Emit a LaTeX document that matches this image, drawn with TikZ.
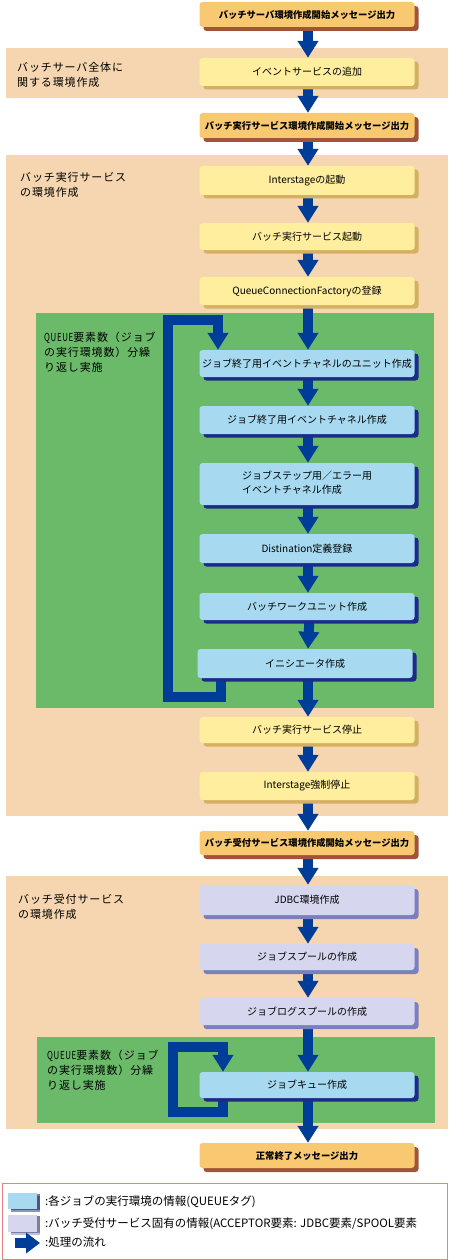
\documentclass[tikz,border=0pt]{standalone}
\usepackage{fontspec}
\usepackage{graphicx}
\setmainfont{Noto Sans CJK JP}
\newfontfamily\jplab[LetterSpace=8]{Noto Sans CJK JP}
\usetikzlibrary{arrows.meta,shadows}
\definecolor{tanbg}{HTML}{F5D6B0}
\definecolor{greenbg}{HTML}{6ABA6A}
\definecolor{orfill}{HTML}{F9C972}
\definecolor{orshad}{HTML}{A0553A}
\definecolor{yefill}{HTML}{FEEE9E}
\definecolor{yeshad}{HTML}{D5B062}
\definecolor{blfill}{HTML}{A7DAF1}
\definecolor{blshad}{HTML}{1C2B8A}
\definecolor{lvfill}{HTML}{D6D7EE}
\definecolor{lvshad}{HTML}{7B7FBF}
\definecolor{flowc}{HTML}{003D99}
\definecolor{legline}{HTML}{E98085}
\newcommand{\narrowq}{\scalebox{0.72}[1]{QUEUE}}
\pgfdeclarelayer{bg}
\pgfdeclarelayer{mid}
\pgfsetlayers{bg,mid,main}
\tikzset{
  box/.style={rounded corners=3pt, minimum width=215pt, inner sep=0pt, align=center,
    font=\fontsize{10}{14}\selectfont, text=black},
  obox/.style={box, fill=orfill, font=\bfseries\fontsize{9.3}{12}\selectfont,
    drop shadow={shadow xshift=4pt, shadow yshift=-4pt, fill=orshad, opacity=1}},
  ybox/.style={box, fill=yefill,
    drop shadow={shadow xshift=4pt, shadow yshift=-3.5pt, fill=yeshad, opacity=1}},
  bbox/.style={box, fill=blfill,
    drop shadow={shadow xshift=4pt, shadow yshift=-3.5pt, fill=blshad, opacity=1}},
  lbox/.style={box, fill=lvfill,
    drop shadow={shadow xshift=4pt, shadow yshift=-4pt, fill=lvshad, opacity=1}},
  flow/.style={draw=flowc, line width=10pt, line join=miter,
    -{Triangle[width=20pt,length=17pt]}},
  lab/.style={anchor=north west, align=left, inner sep=0pt,
    font=\jplab\fontsize{11}{15}\selectfont},
  legtxt/.style={anchor=west, inner sep=0pt, font=\fontsize{11.5}{13}\selectfont},
  legbox/.style={minimum width=29pt, inner sep=0pt,
    drop shadow={shadow xshift=2.5pt, shadow yshift=-0.5pt, opacity=1}}
}
\begin{document}
\begin{tikzpicture}[x=1pt,y=-1pt]
\useasboundingbox (0,0) rectangle (449,1260);
% bands
\begin{pgfonlayer}{bg}
\fill[tanbg] (6,48) rectangle (448,98);
\fill[tanbg] (6,155) rectangle (448,816);
\fill[greenbg] (36,313) rectangle (434,708);
\fill[tanbg] (6,876) rectangle (448,1129);
\fill[greenbg] (37,1037) rectangle (435,1123);
\end{pgfonlayer}
% region labels
\node[lab] (L1) at (17,62) {バッチサーバ全体に\\関する環境作成};
\node[lab] (L2) at (20,172) {バッチ実行サービス\\の環境作成};
\node[lab] (L3) at (18,894) {バッチ受付サービス\\の環境作成};
\node[lab] (L4) at (44,332) {\narrowq 要素数（ジョブ\\の実行環境数）分繰\\り返し実施};
\node[lab] (L5) at (47,1050) {\narrowq 要素数（ジョブ\\の実行環境数）分繰\\り返し実施};
% boxes
\node[obox, minimum height=25pt] (t1) at (307,14.5) {バッチサーバ環境作成開始メッセージ出力};
\node[ybox, minimum height=28pt] (b2) at (307,72) {イベントサービスの追加};
\node[obox, minimum height=25pt] (t2) at (307,125.5) {バッチ実行サービス環境作成開始メッセージ出力};
\node[ybox, minimum height=29pt] (b4) at (307,180.5) {Interstageの起動};
\node[ybox, minimum height=27pt] (b5) at (307,236.5) {バッチ実行サービス起動};
\node[ybox, minimum height=28pt] (b6) at (307,291) {QueueConnectionFactoryの登録};
\node[bbox, minimum height=27pt] (q1) at (307,363.5) {ジョブ終了用イベントチャネルのユニット作成};
\node[bbox, minimum height=28pt] (q2) at (307,420) {ジョブ終了用イベントチャネル作成};
\node[bbox, minimum height=42pt] (q3) at (307,484) {\begin{tabular}{@{}l@{}}ジョブステップ用／エラー用\\イベントチャネル作成\end{tabular}};
\node[bbox, minimum height=29pt] (q4) at (307,548.5) {Distination定義登録};
\node[bbox, minimum height=27pt] (q5) at (307,606.5) {バッチワークユニット作成};
\node[bbox, minimum height=29pt] (q6) at (305,663.5) {イニシエータ作成};
\node[ybox, minimum height=26pt] (b7) at (307,730) {バッチ実行サービス停止};
\node[ybox, minimum height=28pt] (b8) at (307,786) {Interstage強制停止};
\node[obox, minimum height=24pt] (t3) at (307,843) {バッチ受付サービス環境作成開始メッセージ出力};
\node[lbox, minimum height=30pt] (l1) at (307,900) {JDBC環境作成};
\node[lbox, minimum height=26pt] (l2) at (307,957) {ジョブスプールの作成};
\node[lbox, minimum height=27pt] (l3) at (307,1011.5) {ジョブログスプールの作成};
\node[bbox, minimum height=26pt] (q7) at (307,1085) {ジョブキュー作成};
\node[obox, minimum height=25pt] (t4) at (307,1155.5) {正常終了メッセージ出力};
% flow arrows
\begin{pgfonlayer}{mid}
\foreach \a/\b in {t1/b2,b2/t2,t2/b4,b4/b5,b5/b6,b6/q1,q1/q2,q2/q3,q3/q4,q4/q5,b7/b8,b8/t3,t3/l1,l1/l2,l2/l3,l3/q7,q7/t4}
  \draw[flow] ([xshift=1pt]\a.center) -- ([xshift=1pt]\b.north);
\draw[flow] ([xshift=3pt]q5.center) -- ([xshift=3pt]q6.north);
\draw[flow] ([xshift=3pt]q6.center) -- ([xshift=1pt]b7.north);
% loops
\draw[flow] ([xshift=-84pt]q6.center) -- (221,697) -- (168,697) -- (168,320) -- (218,320) -- ([xshift=-89pt]q1.north);
\draw[flow] ([xshift=-84pt]q7.center) -- (223,1112) -- (173,1112) -- (173,1047) -- (223,1047) -- ([xshift=-84pt]q7.north);
\end{pgfonlayer}
% legend
\draw[legline, line width=1pt] (2.5,1183.5) rectangle (447.5,1259);
\node[legbox, fill=blfill, minimum height=16pt, drop shadow={fill=blshad}] (k1) at (22.5,1201) {};
\node[legbox, fill=lvfill, minimum height=17pt, drop shadow={fill=lvshad}] (k2) at (22.5,1223.5) {};
\coordinate (ka) at (15,1243);
\coordinate (kb) at (40,1243);
\draw[flow, -{Triangle[width=20pt,length=14pt]}] (ka) -- (kb);
\node[legtxt] (g1) at (45,1202) {:各ジョブの実行環境の情報(QUEUEタグ)};
\node[legtxt] (g2) at (45,1224) {:バッチ受付サービス固有の情報(ACCEPTOR要素: JDBC要素/SPOOL要素};
\node[legtxt] (g3) at (45,1242) {:処理の流れ};
\end{tikzpicture}
\end{document}
